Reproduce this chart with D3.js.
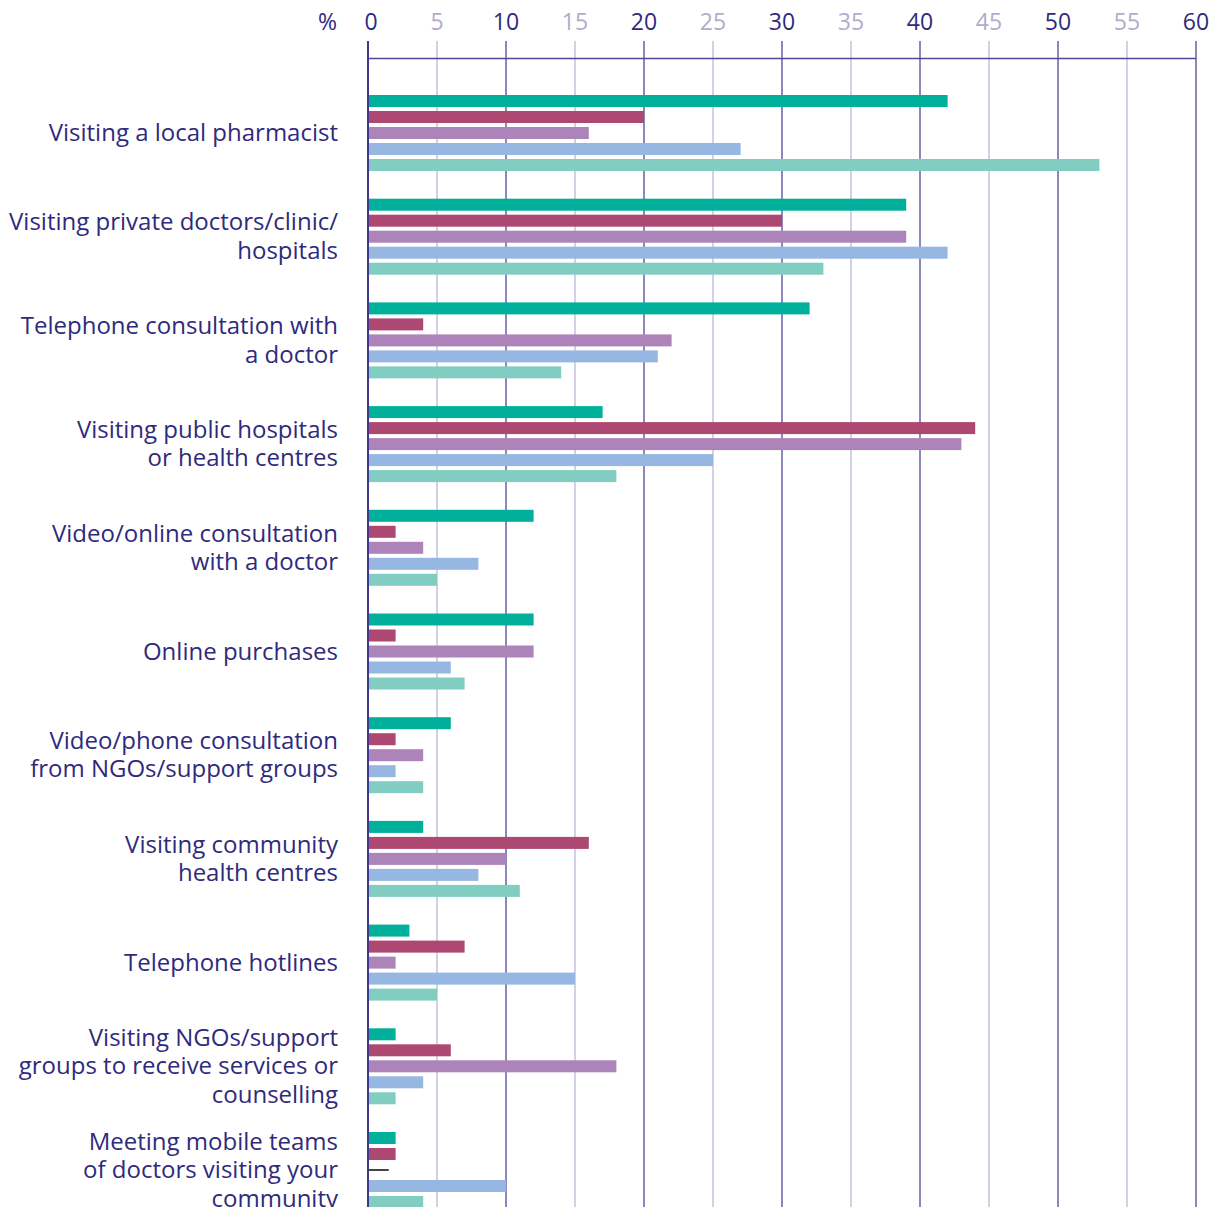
<!DOCTYPE html>
<html>
<head>
<meta charset="utf-8">
<script src="https://cdn.jsdelivr.net/npm/d3@7"></script>
<style>
  body { margin: 0; background: #fff; }
  svg { display: block; font-family: "Open Sans", "Noto Sans", sans-serif; }
</style>
</head>
<body>
<div id="chart"></div>
<script>
// categories (label lines)
const categories = [
  ["Visiting a local pharmacist"],
  ["Visiting private doctors/clinic/", "hospitals"],
  ["Telephone consultation with", "a doctor"],
  ["Visiting public hospitals", "or health centres"],
  ["Video/online consultation", "with a doctor"],
  ["Online purchases"],
  ["Video/phone consultation", "from NGOs/support groups"],
  ["Visiting community", "health centres"],
  ["Telephone hotlines"],
  ["Visiting NGOs/support", "groups to receive services or", "counselling"],
  ["Meeting mobile teams", "of doctors visiting your", "community"]
];

const seriesNames = ["s1", "s2", "s3", "s4", "s5"];
const seriesColors = ["#00b09b", "#ad4872", "#ad84b9", "#96b7e1", "#82cdc2"];

const s1 = [42, 39, 32, 17, 12, 12, 6, 4, 3, 2, 2];
const s2 = [20, 30, 4, 44, 2, 2, 2, 16, 7, 6, 2];
const s3 = [16, 39, 22, 43, 4, 12, 4, 10, 2, 18, 1.5];
const s4 = [27, 42, 21, 25, 8, 6, 2, 8, 15, 4, 10];
const s5 = [53, 33, 14, 18, 5, 7, 4, 11, 5, 2, 4];
const seriesValues = [s1, s2, s3, s4, s5];

// cells drawn only as a thin line in the original
const thinCells = [[10, 2]];

const xTicks = [0, 5, 10, 15, 20, 25, 30, 35, 40, 45, 50, 55, 60];

const width = 1221, height = 1207;
const left = 368, right = 1196;
const dark = "#2f2a7c";

const svg = d3.select("#chart").append("svg")
  .attr("width", width).attr("height", height);

const x = d3.scaleLinear().domain([0, 60]).range([left, right]);

const keys = categories.map((c, i) => i);
const y0 = d3.scaleBand().domain(keys).range([95, 95 + 11 * 103.7]).padding(0);
const y1 = d3.scaleBand().domain(seriesNames).range([0, 76]).paddingInner(0.25).paddingOuter(0);

// gridlines
const grid = svg.append("g");
grid.selectAll("line").data(xTicks).enter().append("line")
  .attr("x1", d => x(d)).attr("x2", d => x(d))
  .attr("y1", 41).attr("y2", height)
  .attr("stroke", d => d === 0 ? "#3f378c" : (d % 10 === 0 ? "#7069ac" : "#c9c5df"))
  .attr("stroke-width", d => d === 0 ? 2 : 1.6);

// axis line
svg.append("line")
  .attr("x1", x(0)).attr("x2", x(60))
  .attr("y1", 58.5).attr("y2", 58.5)
  .attr("stroke", "#4f479a").attr("stroke-width", 1.6);

// tick labels
svg.append("g").selectAll("text").data(xTicks).enter().append("text")
  .attr("x", d => x(d) + (d === 0 ? 3 : 0))
  .attr("y", 30)
  .attr("text-anchor", "middle")
  .attr("font-size", 23)
  .attr("fill", d => d % 10 === 0 ? dark : "#b1abcd")
  .text(d => d);

svg.append("text")
  .attr("x", 337).attr("y", 30)
  .attr("text-anchor", "end")
  .attr("font-size", 23)
  .attr("fill", dark)
  .text("%");

// bars
const isThin = (ci, si) => thinCells.some(c => c[0] === ci && c[1] === si);
const bars = svg.append("g");
keys.forEach(ci => {
  seriesNames.forEach((s, si) => {
    const v = seriesValues[si][ci];
    if (isThin(ci, si)) {
      bars.append("rect")
        .attr("x", x(0)).attr("width", x(v) - x(0))
        .attr("y", y0(ci) + y1(s) + y1.bandwidth() / 2 - 1)
        .attr("height", 2)
        .attr("fill", "#444");
      return;
    }
    bars.append("rect")
      .attr("x", x(0) + 1)
      .attr("y", y0(ci) + y1(s))
      .attr("width", x(v) - x(0) - 1)
      .attr("height", y1.bandwidth())
      .attr("fill", seriesColors[si]);
  });
});

// category labels
const lineH = 28.5;
const labels = svg.append("g");
categories.forEach((lines, ci) => {
  const cy = y0(ci) + 38;
  const t = labels.append("text")
    .attr("text-anchor", "end")
    .attr("font-size", 24)
    .attr("fill", dark);
  lines.forEach((ln, li) => {
    t.append("tspan")
      .attr("x", 338)
      .attr("y", cy + (li - (lines.length - 1) / 2) * lineH + 8)
      .text(ln);
  });
});
</script>
</body>
</html>
